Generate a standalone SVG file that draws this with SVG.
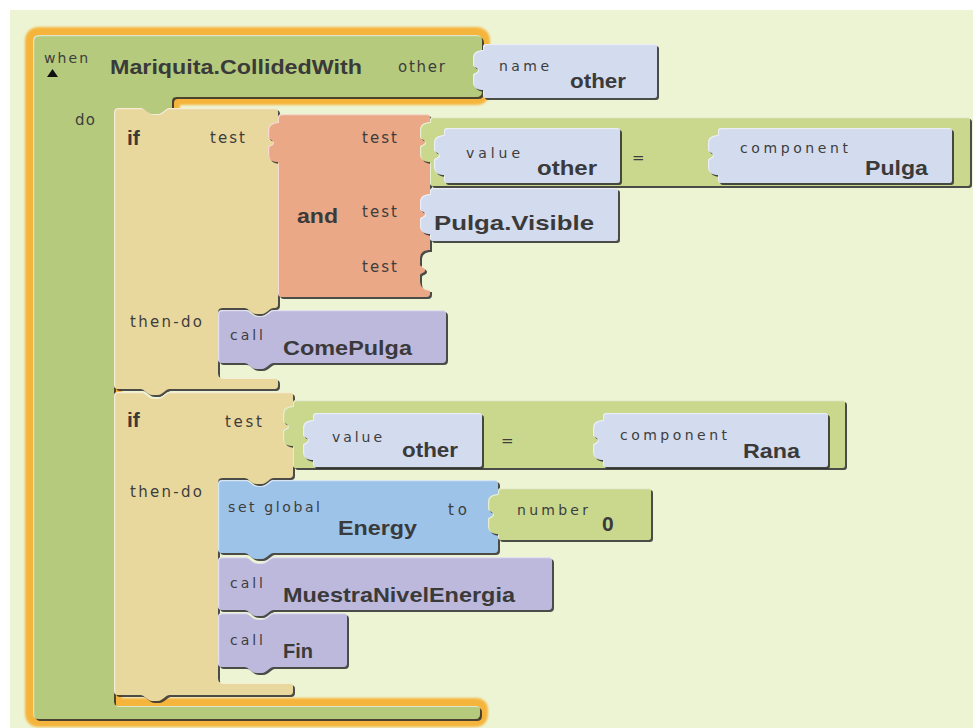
<svg xmlns="http://www.w3.org/2000/svg" xmlns:xlink="http://www.w3.org/1999/xlink" width="973" height="728" viewBox="0 0 973 728">
<defs>
<style>
text{font-family:"DejaVu Sans","Liberation Sans",sans-serif;fill:#3d3d3d}
.lb{font-size:15px}
.sm{font-size:14px}
.bd{font-family:"Liberation Sans",Arial,sans-serif;font-size:21px;font-weight:bold;fill:#3a3a3a}
.ev{fill:#b5ca7c}
.tan{fill:#e9d89d}
.sal{fill:#eba887}
.val{fill:#d3dbee}
.cmp{fill:#c9d88d}
.cal{fill:#bdb9dd}
.set{fill:#9dc3e8}
</style>
<filter id="bv" x="-5%" y="-5%" width="110%" height="115%">
<feOffset in="SourceAlpha" dx="1.5" dy="1.6" result="o1"/>
<feFlood flood-color="#2e2e2e" flood-opacity="0.85" result="dk"/>
<feComposite in="dk" in2="o1" operator="in" result="sh"/>
<feOffset in="SourceAlpha" dx="1.2" dy="1.2" result="o2"/>
<feComposite in="SourceAlpha" in2="o2" operator="out" result="hl"/>
<feFlood flood-color="#ffffff" flood-opacity="0.5" result="wt"/>
<feComposite in="wt" in2="hl" operator="in" result="hlc"/>
<feMerge><feMergeNode in="sh"/><feMergeNode in="SourceGraphic"/><feMergeNode in="hlc"/></feMerge>
</filter>
<filter id="gl" x="-10%" y="-10%" width="120%" height="120%"><feGaussianBlur stdDeviation="1.2"/></filter>
<path id="pl" d="M1,0 C-5,0 -10,2 -10,8 L-10,15 C-10,17 -5,17 -5,20 C-5,23 -10,23 -10,25 L-10,32 C-10,38 -5,40 1,40 Z"/>
<path id="evp" d="M33,41 Q33,35 39,35 L476,35 Q482,35 482,41 L482,91 Q482,97 476,97 L176,97 Q172,97 172,101 L172,108 L169,108 C165,108 163,114 157,114 L153,114 C147,114 145,108 141,108 L118,108 Q114,108 114,112 L114,702 Q114,706 118,706 L476,706 Q480,706 480,710 L480,714 Q480,719 475,719 L39,719 Q33,719 33,713 Z"/>
</defs>
<rect width="973" height="728" fill="#ffffff"/>
<rect x="10" y="10" width="963" height="718" fill="#edf4d4"/>

<g id="event">
<use href="#evp" fill="none" stroke="#f5b53c" stroke-width="16" stroke-linejoin="round" filter="url(#gl)"/>
<g filter="url(#bv)"><use href="#evp" class="ev"/></g>
<text class="sm" x="44" y="63" textLength="44">when</text>
<polygon points="47,77 52.5,69 58,77" fill="#111"/>
<text class="bd" x="110" y="74" textLength="252" lengthAdjust="spacingAndGlyphs">Mariquita.CollidedWith</text>
<text class="lb" x="398" y="72" textLength="47">other</text>
<text class="lb" x="75" y="125" textLength="20">do</text>
</g>

<g id="name-other" class="val" filter="url(#bv)">
<rect x="483" y="44" width="174" height="54" rx="3"/><use href="#pl" x="483" y="50"/>
</g>
<g id="name-other-text">
<text class="sm" x="499" y="71" textLength="50">name</text>
<text class="bd" x="570" y="88" textLength="56" lengthAdjust="spacingAndGlyphs">other</text>
</g>

<g id="if1">
<g filter="url(#bv)"><path class="tan" d="M114,112 Q114,108 118,108 L141,108 C145,108 147,114 153,114 L157,114 C163,114 165,108 169,108 L274,108 Q278,108 278,112 L278,304 Q278,308 274,308 L273,308 C269,308 267,314 261,314 L257,314 C251,314 249,308 245,308 L222,308 Q218,308 218,312 L218,374 Q218,378 222,378 L274,378 Q278,378 278,382 L278,385 Q278,389 274,389 L169,389 C165,389 163,395 157,395 L153,395 C147,395 145,389 141,389 L118,389 Q114,389 114,385 Z"/></g>
<text class="bd" x="127" y="145">if</text>
<text class="lb" x="210" y="143" textLength="35">test</text>
<text class="lb" x="130" y="327" textLength="72">then-do</text>
</g>

<g id="and">
<g class="sal" filter="url(#bv)"><path d="M278,118 Q278,114 282,114 L426,114 Q430,114 430,118 L430,250 C424,250 420,252 420,258 L420,265 C420,267 425,267 425,270 C425,273 420,273 420,275 L420,282 C420,288 425,290 430,290 L430,293 Q430,297 426,297 L282,297 Q278,297 278,293 Z"/><use href="#pl" x="278" y="122"/></g>
<text class="bd" x="297" y="223" textLength="41" lengthAdjust="spacingAndGlyphs">and</text>
<text class="lb" x="362" y="143" textLength="35">test</text>
<text class="lb" x="362" y="217" textLength="35">test</text>
<text class="lb" x="362" y="272" textLength="35">test</text>
</g>

<g id="compare1">
<g class="cmp" filter="url(#bv)"><rect x="430" y="117" width="540" height="69" rx="3"/><use href="#pl" x="430" y="122"/></g>
<text class="lb" x="632" y="163">=</text>
</g>
<g id="value-other-1">
<g class="val" filter="url(#bv)"><rect x="444" y="128" width="176" height="55" rx="3"/><use href="#pl" x="444" y="135"/></g>
<text class="sm" x="466" y="158" textLength="54">value</text>
<text class="bd" x="537" y="175" textLength="60" lengthAdjust="spacingAndGlyphs">other</text>
</g>
<g id="component-pulga">
<g class="val" filter="url(#bv)"><rect x="718" y="128" width="234" height="55" rx="3"/><use href="#pl" x="718" y="135"/></g>
<text class="sm" x="740" y="153" textLength="108">component</text>
<text class="bd" x="865" y="175" textLength="63" lengthAdjust="spacingAndGlyphs">Pulga</text>
</g>
<g id="pulga-visible">
<g class="val" filter="url(#bv)"><rect x="430" y="188" width="188" height="53" rx="3"/><use href="#pl" x="430" y="194"/></g>
<text class="bd" x="434" y="230" textLength="160" lengthAdjust="spacingAndGlyphs">Pulga.Visible</text>
</g>

<g id="call-comepulga">
<g filter="url(#bv)"><path class="cal" d="M218,314 Q218,310 222,310 L245,310 C249,310 251,316 257,316 L261,316 C267,316 269,310 273,310 L442,310 Q446,310 446,314 L446,359 Q446,363 442,363 L273,363 C269,363 267,369 261,369 L257,369 C251,369 249,363 245,363 L222,363 Q218,363 218,359 Z"/></g>
<text class="sm" x="230" y="340" textLength="33">call</text>
<text class="bd" x="283" y="355" textLength="129" lengthAdjust="spacingAndGlyphs">ComePulga</text>
</g>

<g id="if2">
<g filter="url(#bv)"><path class="tan" d="M114,396 Q114,392 118,392 L141,392 C145,392 147,398 153,398 L157,398 C163,398 165,392 169,392 L289,392 Q293,392 293,396 L293,474 Q293,478 289,478 L273,478 C269,478 267,484 261,484 L257,484 C251,484 249,478 245,478 L222,478 Q218,478 218,482 L218,679 Q218,683 222,683 L289,683 Q293,683 293,687 L293,691 Q293,695 289,695 L169,695 C165,695 163,701 157,701 L153,701 C147,701 145,695 141,695 L118,695 Q114,695 114,691 Z"/></g>
<text class="bd" x="127" y="427">if</text>
<text class="lb" x="225" y="427" textLength="37">test</text>
<text class="lb" x="130" y="497" textLength="72">then-do</text>
</g>

<g id="compare2">
<g class="cmp" filter="url(#bv)"><rect x="293" y="400" width="552" height="68" rx="3"/><use href="#pl" x="293" y="406"/></g>
<text class="lb" x="501" y="446">=</text>
</g>
<g id="value-other-2">
<g class="val" filter="url(#bv)"><rect x="313" y="413" width="169" height="54" rx="3"/><use href="#pl" x="313" y="420"/></g>
<text class="sm" x="332" y="442" textLength="50">value</text>
<text class="bd" x="402" y="457" textLength="56" lengthAdjust="spacingAndGlyphs">other</text>
</g>
<g id="component-rana">
<g class="val" filter="url(#bv)"><rect x="603" y="413" width="225" height="54" rx="3"/><use href="#pl" x="603" y="420"/></g>
<text class="sm" x="620" y="440" textLength="107">component</text>
<text class="bd" x="743" y="458" textLength="57" lengthAdjust="spacingAndGlyphs">Rana</text>
</g>

<g id="set-energy">
<g filter="url(#bv)"><path class="set" d="M218,484 Q218,480 222,480 L245,480 C249,480 251,486 257,486 L261,486 C267,486 269,480 273,480 L494,480 Q498,480 498,484 L498,549 Q498,553 494,553 L273,553 C269,553 267,559 261,559 L257,559 C251,559 249,553 245,553 L222,553 Q218,553 218,549 Z"/></g>
<text class="sm" x="228" y="512" textLength="92">set global</text>
<text class="bd" x="338" y="535" textLength="79" lengthAdjust="spacingAndGlyphs">Energy</text>
<text class="lb" x="448" y="515" textLength="19">to</text>
</g>
<g id="number-0">
<g class="cmp" filter="url(#bv)"><rect x="498" y="488" width="153" height="52" rx="3"/><use href="#pl" x="498" y="494"/></g>
<text class="sm" x="517" y="515" textLength="71">number</text>
<text class="bd" x="602" y="531">0</text>
</g>

<g id="call-muestra">
<g filter="url(#bv)"><path class="cal" d="M218,561 Q218,557 222,557 L245,557 C249,557 251,563 257,563 L261,563 C267,563 269,557 273,557 L548,557 Q552,557 552,561 L552,606 Q552,610 548,610 L273,610 C269,610 267,616 261,616 L257,616 C251,616 249,610 245,610 L222,610 Q218,610 218,606 Z"/></g>
<text class="sm" x="230" y="588" textLength="33">call</text>
<text class="bd" x="283" y="602" textLength="232" lengthAdjust="spacingAndGlyphs">MuestraNivelEnergia</text>
</g>

<g id="call-fin">
<g filter="url(#bv)"><path class="cal" d="M218,617 Q218,613 222,613 L245,613 C249,613 251,619 257,619 L261,619 C267,619 269,613 273,613 L343,613 Q347,613 347,617 L347,663 Q347,667 343,667 L273,667 C269,667 267,673 261,673 L257,673 C251,673 249,667 245,667 L222,667 Q218,667 218,663 Z"/></g>
<text class="sm" x="230" y="645" textLength="33">call</text>
<text class="bd" x="283" y="658" textLength="30" lengthAdjust="spacingAndGlyphs">Fin</text>
</g>
</svg>
